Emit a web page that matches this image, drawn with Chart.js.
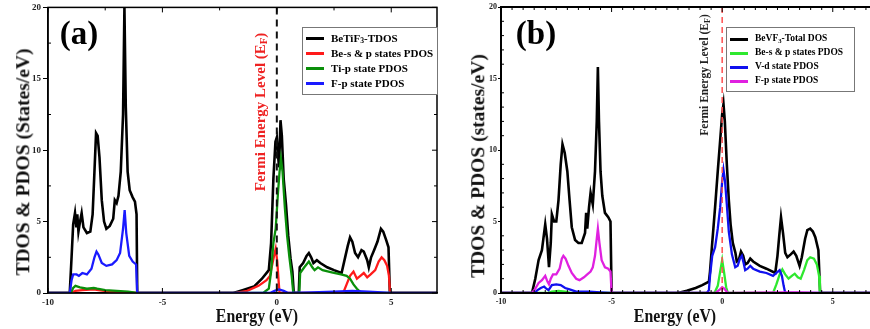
<!DOCTYPE html>
<html>
<head>
    <title>BeTiF3 and BeVF3 TDOS / PDOS</title>
    <style>
        html, body {
            margin: 0;
            padding: 0;
            overflow: hidden;
            background: #fff;
        }
        body {
            width: 870px;
            height: 329px;
            position: relative;
            font-family: "Liberation Serif", "Times New Roman", serif;
            font-weight: bold;
        }
        .panel {
            position: absolute;
            top: 0;
        }
        .lbl {
            position: absolute;
            white-space: nowrap;
            line-height: 1;
        }
        .ctr { transform: translate(-50%, -50%); }
        .rot { transform: translate(-50%, -50%) rotate(-90deg); }
        .legend {
            position: absolute;
            border: 1px solid #777;
            background: #fff;
        }
        .legend .row {
            position: absolute;
            white-space: nowrap;
            line-height: 1;
            transform: translateY(-50%);
        }
        .legend .smp {
            position: absolute;
            height: 3px;
            width: 18px;
        }
        sub { font-size: 0.7em; vertical-align: -0.25em; line-height: 0; }
    </style>
</head>
<body>
    <div class="panel" style="left:0"><canvas id="chartA" width="440" height="329"></canvas></div>
    <div class="panel" style="left:440px"><canvas id="chartB" width="440" height="329"></canvas></div>

    <div class="lbl ctr" style="left:79px;top:33px;font-size:33px">(a)</div>
    <div class="lbl ctr" style="left:536px;top:33px;font-size:33px">(b)</div>

    <div class="lbl rot" style="left:23px;top:162px;font-size:19.5px;color:#111">TDOS &amp; PDOS (States/eV)</div>
    <div class="lbl rot" style="left:478px;top:166px;font-size:19.5px;color:#111">TDOS &amp; PDOS (states/eV)</div>

    <div class="lbl ctr" style="left:257px;top:316px;font-size:18px;color:#111;transform:translate(-50%,-50%) scaleX(0.88)">Energy (eV)</div>
    <div class="lbl ctr" style="left:675px;top:316px;font-size:18px;color:#111;transform:translate(-50%,-50%) scaleX(0.88)">Energy (eV)</div>

    <div class="lbl rot" style="left:260px;top:112px;font-size:15px;color:#ee2222">Fermi Energy Level (E<sub>F</sub>)</div>
    <div class="lbl rot" style="left:705px;top:75px;font-size:11.5px;color:#222">Fermi Energy Level (E<sub>F</sub>)</div>

    <div class="legend" id="legA" style="left:302px;top:27px;width:134px;height:66px"></div>
    <div class="legend" id="legB" style="left:726px;top:27px;width:127px;height:63px"></div>

    <script src="https://cdn.jsdelivr.net/npm/chart.js"></script>
    <script>
        // ---- data: [energy (eV), DOS (states/eV)] ----
        var xTickVals = [-10, -5, 0, 5];
        var yTickVals = [0, 5, 10, 15, 20];

        // (a) BeTiF3
        var aLabels = ['BeTiF<sub>3</sub>-TDOS', 'Be-s &amp; p states PDOS', 'Ti-p state PDOS', 'F-p state PDOS'];
        var aColors = ['#000000', '#ff1a1a', '#0a8f0a', '#1a1aff'];

        var aTotal = [[-10,0],[-9.05,0],[-8.97,2.5],[-8.9,4.8],[-8.82,5.6],[-8.76,4.6],[-8.72,5.5],[-8.67,4.3],[-8.6,5.0],[-8.53,5.6],
            [-8.45,4.6],[-8.3,4.2],[-8.15,4.3],[-8.05,5.5],[-7.97,8.5],[-7.9,11.2],[-7.83,11.0],[-7.75,9.5],[-7.65,6.5],[-7.55,5.0],
            [-7.45,4.5],[-7.3,4.7],[-7.15,5.2],[-7.08,6.5],[-7.0,6.3],[-6.92,6.8],[-6.82,8.5],[-6.72,12.5],[-6.66,20],[-6.6,13],
            [-6.52,8.5],[-6.43,7.2],[-6.3,6.7],[-6.2,6.4],[-6.13,5.5],[-6.1,0],[-1.9,0],[-1.5,0.2],[-1.0,0.45],[-0.65,1.0],
            [-0.35,1.6],[-0.25,3.5],[-0.15,8],[-0.06,10.6],[0.0,10.9],[0.06,9.5],[0.1,8.8],[0.16,12.1],[0.22,11.0],[0.3,8.0],
            [0.4,6.2],[0.5,4.0],[0.6,2.4],[0.68,1.5],[0.74,0],[0.96,0],[1.0,1.8],[1.15,2.1],[1.3,2.6],[1.4,2.8],
            [1.5,2.5],[1.6,2.1],[1.75,2.3],[1.9,2.1],[2.2,1.8],[2.5,1.6],[2.83,1.4],[3.0,2.6],[3.1,3.3],[3.2,3.9],
            [3.3,3.6],[3.42,2.8],[3.55,2.5],[3.7,3.0],[3.8,2.9],[3.95,2.3],[4.02,1.8],[4.12,2.5],[4.25,3.0],[4.4,3.6],
            [4.55,4.5],[4.65,4.3],[4.78,3.7],[4.88,3.2],[4.94,0],[7,0]];
        var aBe = [[-10,0],[-9.0,0],[-8.8,0.15],[-8.5,0.2],[-8.0,0.25],[-7.8,0.2],[-7.3,0.1],[-6.5,0.05],[-6.1,0],[-1.8,0],
            [-1.3,0.15],[-0.8,0.5],[-0.45,0.9],[-0.3,1.2],[-0.2,2.0],[-0.12,2.6],[-0.05,3.1],[0.02,2.2],[0.08,0.8],[0.12,0],
            [2.9,0],[3.05,0.6],[3.2,1.2],[3.35,1.5],[3.5,1.0],[3.65,1.2],[3.8,1.4],[3.95,1.1],[4.1,1.3],[4.3,1.6],
            [4.45,2.2],[4.58,2.5],[4.7,2.3],[4.82,1.9],[4.9,1.2],[4.95,0],[7,0]];
        var aTi = [[-10,0],[-9.0,0],[-8.9,0.35],[-8.8,0.5],[-8.6,0.4],[-8.3,0.3],[-8.0,0.35],[-7.85,0.3],[-7.5,0.2],[-7.0,0.15],
            [-6.5,0.1],[-6.1,0],[-0.6,0],[-0.35,0.3],[-0.25,1.5],[-0.15,3.5],[-0.05,4.5],[0.05,7.0],[0.12,8.5],[0.18,9.4],
            [0.25,8.5],[0.35,6.0],[0.45,4.0],[0.55,2.5],[0.65,1.2],[0.72,0],[0.98,0],[1.02,1.4],[1.2,1.8],[1.4,2.2],
            [1.55,1.8],[1.65,1.6],[1.8,1.8],[2.0,1.6],[2.4,1.45],[2.8,1.3],[3.05,1.2],[3.2,1.0],[3.35,0.6],[3.5,0.3],
            [3.7,0],[7,0]];
        var aF = [[-10,0],[-9.05,0],[-8.97,0.9],[-8.9,1.3],[-8.75,1.3],[-8.65,1.2],[-8.5,1.4],[-8.3,1.3],[-8.1,1.7],[-7.97,2.5],
            [-7.88,2.9],[-7.8,2.7],[-7.65,2.1],[-7.45,1.9],[-7.2,2.0],[-7.0,2.3],[-6.85,2.8],[-6.72,4.5],[-6.65,5.8],[-6.58,4.2],
            [-6.45,2.6],[-6.3,2.2],[-6.15,2.0],[-6.1,0],[-0.3,0],[-0.1,0.15],[0.1,0.25],[0.3,0.15],[0.5,0],[1.5,0.05],
            [2.5,0.1],[3.3,0.15],[4.0,0.1],[5,0],[7,0]];

        // (b) BeVF3
        var bLabels = ['BeVF<sub>3</sub>-Total DOS', 'Be-s &amp; p states PDOS', 'V-d state PDOS', 'F-p state PDOS'];
        var bColors = ['#000000', '#2ee82e', '#1010ee', '#e020e0'];

        var bTotal = [[-10,0],[-8.6,0],[-8.45,1.0],[-8.3,2.3],[-8.15,3.0],[-8.05,4.2],[-8.0,4.8],[-7.92,3.8],[-7.83,1.8],[-7.75,3.5],
            [-7.7,5.5],[-7.6,5.0],[-7.5,5.0],[-7.4,6.5],[-7.3,9.0],[-7.22,10.4],[-7.12,9.8],[-7.0,8.5],[-6.9,6.5],[-6.8,4.6],
            [-6.65,3.7],[-6.5,3.5],[-6.35,3.5],[-6.2,4.2],[-6.15,5.6],[-6.1,4.5],[-6.02,6.0],[-5.95,7.0],[-5.85,6.2],[-5.75,8.5],
            [-5.67,12],[-5.62,15.8],[-5.57,12],[-5.5,8.5],[-5.42,6.8],[-5.3,5.6],[-5.15,5.3],[-5.05,5.0],[-5.0,0],[-2.0,0],
            [-1.6,0.15],[-1.2,0.35],[-0.9,0.55],[-0.6,0.8],[-0.55,1.5],[-0.45,3.5],[-0.32,6.0],[-0.2,8.5],[-0.09,10.7],[0.0,12.5],
            [0.06,13.2],[0.12,12.0],[0.21,9.0],[0.3,6.5],[0.38,4.8],[0.48,3.5],[0.6,2.8],[0.66,2.2],[0.75,2.3],[0.85,2.9],
            [0.95,2.6],[1.04,2.0],[1.15,2.1],[1.27,2.4],[1.4,2.2],[1.7,1.9],[2.0,1.7],[2.4,1.4],[2.5,2.6],[2.58,4.0],
            [2.66,5.3],[2.75,4.2],[2.85,2.8],[2.95,2.5],[3.1,2.7],[3.23,2.9],[3.35,2.6],[3.5,1.9],[3.6,2.5],[3.75,3.8],
            [3.85,4.4],[3.98,4.5],[4.1,4.3],[4.21,3.9],[4.35,3.0],[4.43,0],[7,0]];
        var bBe = [[-10,0],[-7.9,0],[-7.7,0.1],[-7.4,0.15],[-7.1,0.1],[-6.8,0],[-0.35,0],[-0.2,0.5],[-0.08,1.6],[0.0,2.3],
            [0.08,1.5],[0.18,0.4],[0.26,0],[2.3,0],[2.45,0.6],[2.6,1.3],[2.72,1.65],[2.85,1.3],[3.0,1.0],[3.15,1.2],
            [3.28,1.35],[3.42,1.1],[3.55,1.0],[3.7,1.6],[3.85,2.3],[3.98,2.5],[4.15,2.4],[4.28,2.0],[4.38,1.2],[4.42,0],[7,0]];
        var bV = [[-10,0],[-8.5,0],[-8.35,0.2],[-8.2,0.35],[-8.05,0.45],[-7.95,0.3],[-7.85,0.2],[-7.7,0.55],[-7.5,0.6],[-7.3,0.55],
            [-7.1,0.35],[-6.9,0.25],[-6.6,0.1],[-6.0,0.1],[-5.5,0.05],[-5.0,0],[-0.7,0],[-0.6,0.2],[-0.55,1.2],[-0.45,2.6],
            [-0.32,3.2],[-0.2,4.5],[-0.09,6.0],[0.0,7.8],[0.06,8.6],[0.13,7.8],[0.21,6.2],[0.3,4.3],[0.44,2.7],[0.59,1.8],
            [0.7,1.9],[0.8,2.4],[0.89,2.6],[0.97,2.1],[1.04,1.6],[1.15,1.7],[1.27,1.9],[1.4,1.7],[1.7,1.5],[2.0,1.4],
            [2.3,1.2],[2.45,1.4],[2.6,1.6],[2.7,1.2],[2.78,0.5],[2.85,0],[7,0]];
        var bF = [[-10,0],[-8.6,0],[-8.45,0.3],[-8.3,0.7],[-8.15,0.9],[-8.0,1.2],[-7.9,0.8],[-7.83,0.6],[-7.75,1.0],[-7.65,1.3],
            [-7.5,1.3],[-7.35,1.7],[-7.25,2.4],[-7.18,2.6],[-7.08,2.4],[-6.95,1.9],[-6.8,1.4],[-6.6,1.0],[-6.45,0.9],[-6.25,1.1],
            [-6.1,1.3],[-5.95,1.5],[-5.85,1.8],[-5.75,2.6],[-5.67,3.8],[-5.62,4.5],[-5.55,3.5],[-5.45,2.3],[-5.3,1.8],[-5.15,1.7],
            [-5.05,1.5],[-5.0,0],[-0.3,0],[-0.1,0.25],[0.0,0.4],[0.1,0.3],[0.25,0],[2.5,0.05],[3.5,0.05],[4.4,0],[7,0]];

        // inward ticks, top/right frame and the Fermi level line
        var frameTicks = {
            id: 'frameTicks',
            afterDatasetsDraw: function(chart, args, o) {
                var ctx = chart.ctx, a = chart.chartArea;
                var x = chart.scales.x, y = chart.scales.y;
                ctx.save();
                var fx = x.getPixelForValue(0);
                ctx.strokeStyle = o.fermiColor;
                ctx.lineWidth = o.fermiWidth;
                ctx.setLineDash(o.dash);
                ctx.beginPath();
                ctx.moveTo(fx, a.top);
                ctx.lineTo(fx, a.bottom);
                ctx.stroke();
                ctx.setLineDash([]);

                ctx.strokeStyle = '#000';
                ctx.lineWidth = o.frame;
                ctx.strokeRect(a.left, a.top, a.right - a.left, a.bottom - a.top);

                ctx.lineWidth = 1;
                ctx.beginPath();
                var v, p, major, L;
                for (v = x.min; v <= x.max + 1e-6; v += o.xMinor) {
                    p = x.getPixelForValue(v);
                    major = Math.abs(v % 5) < 1e-6;
                    L = major ? 5 : 3;
                    ctx.moveTo(p, a.bottom); ctx.lineTo(p, a.bottom - L);
                    ctx.moveTo(p, a.top); ctx.lineTo(p, a.top + L);
                }
                for (v = y.min; v <= y.max + 1e-6; v += o.yMinor) {
                    p = y.getPixelForValue(v);
                    major = Math.abs(v % 5) < 1e-6;
                    L = major ? 5 : 3;
                    if (!major) { ctx.moveTo(a.left, p); ctx.lineTo(a.left + L, p); }
                    ctx.moveTo(a.right, p); ctx.lineTo(a.right - L, p);
                }
                ctx.stroke();
                ctx.restore();
            }
        };

        function makeChart(id, series, colors, labels, o) {
            var datasets = series.map(function(s, i) {
                return {
                    label: labels[i].replace(/<[^>]+>/g, '').replace('&amp;', '&'),
                    data: s.map(function(p) { return { x: p[0], y: p[1] }; }),
                    borderColor: colors[i],
                    backgroundColor: colors[i],
                    borderWidth: i === 0 ? 2.6 : 2.3,
                    pointRadius: 0,
                    showLine: true,
                    tension: 0,
                    order: series.length - i
                };
            });
            var tickFont = { family: 'Liberation Serif', weight: 'bold', size: o.tickSize };
            return new Chart(document.getElementById(id), {
                type: 'scatter',
                data: { datasets: datasets },
                plugins: [frameTicks],
                options: {
                    responsive: false,
                    animation: false,
                    layout: { padding: { left: 0, right: 3, top: 7, bottom: 0 } },
                    plugins: {
                        legend: { display: false },
                        tooltip: { enabled: false },
                        frameTicks: o
                    },
                    scales: {
                        x: {
                            type: 'linear', min: -10, max: 7,
                            afterBuildTicks: function(s) { s.ticks = xTickVals.map(function(v) { return { value: v }; }); },
                            afterFit: function(s) { s.height = 36; },
                            ticks: { font: tickFont, color: '#222', padding: 4, maxRotation: 0 },
                            grid: { display: true, drawOnChartArea: false, drawTicks: false, color: '#000' },
                            border: { display: true, color: '#000', width: o.frame }
                        },
                        y: {
                            type: 'linear', min: 0, max: 20,
                            afterBuildTicks: function(s) { s.ticks = yTickVals.map(function(v) { return { value: v }; }); },
                            afterFit: function(s) { s.width = o.yWidth; },
                            ticks: { font: tickFont, color: '#222', padding: o.yPad },
                            grid: { display: true, drawOnChartArea: false, drawTicks: true, tickLength: o.yTick, color: '#000' },
                            border: { display: true, color: '#000', width: o.frame }
                        }
                    }
                }
            });
        }

        function makeLegend(id, labels, colors, first, gap, size) {
            var box = document.getElementById(id);
            labels.forEach(function(t, i) {
                var yc = first + i * gap;
                var s = document.createElement('div');
                s.className = 'smp';
                s.style.left = '3px';
                s.style.top = (yc - 1.5) + 'px';
                s.style.background = colors[i];
                box.appendChild(s);
                var r = document.createElement('div');
                r.className = 'row';
                r.style.left = '28px';
                r.style.top = yc + 'px';
                r.style.fontSize = size + 'px';
                r.innerHTML = t;
                box.appendChild(r);
            });
        }

        makeChart('chartA', [aTotal, aBe, aTi, aF], aColors, aLabels,
            { xMinor: 2.5, yMinor: 2.5, tickSize: 9, yWidth: 48, yPad: 2, yTick: 5, frame: 1.5,
              fermiColor: '#111', fermiWidth: 2, dash: [7, 5] });
        makeChart('chartB', [bTotal, bBe, bV, bF], bColors, bLabels,
            { xMinor: 0.5, yMinor: 1, tickSize: 8, yWidth: 61, yPad: 1, yTick: 3, frame: 2,
              fermiColor: '#ff5050', fermiWidth: 1.5, dash: [6, 4] });

        makeLegend('legA', aLabels, aColors, 10, 15, 11);
        makeLegend('legB', bLabels, bColors, 11, 14, 9.5);
    </script>
</body>
</html>
